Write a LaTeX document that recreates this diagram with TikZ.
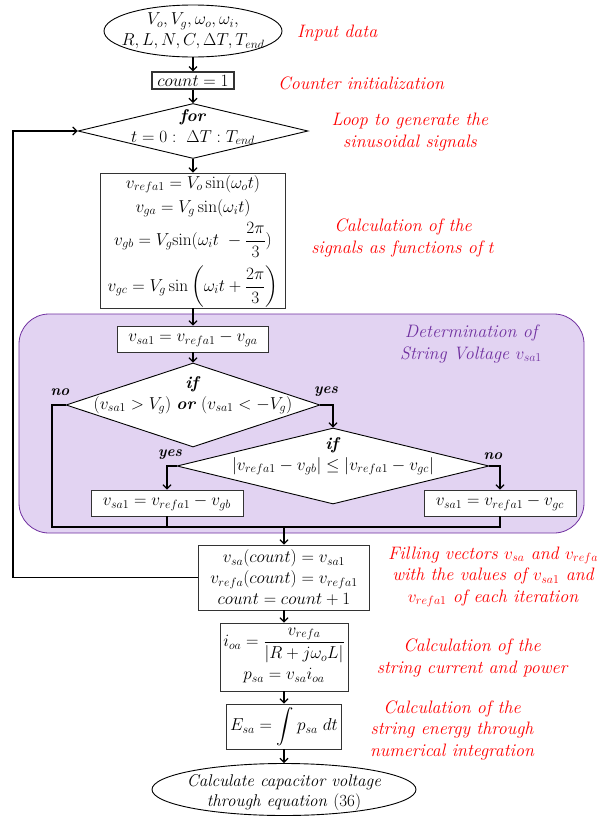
\documentclass[tikz,border=0pt]{standalone}
\usepackage{amsmath}
\usetikzlibrary{shapes.geometric,arrows.meta}
\definecolor{myred}{RGB}{255,0,0}
\definecolor{mypurple}{RGB}{112,48,160}
\definecolor{lav}{RGB}{226,211,242}
\newcommand\mf{\fontsize{17}{21}\selectfont}
\newcommand\nf{\fontsize{18}{21.5}\selectfont\itshape}
\newcommand\bi[1]{\textbf{\textit{#1}}}
\begin{document}
\begin{tikzpicture}[x=1pt,y=-1pt,
  box/.style={draw=black!80,line width=0.9pt,fill=white,inner sep=0pt,align=center,font=\mf},
  dia/.style={diamond,draw=black,line width=0.9pt,fill=white,inner sep=0pt},
  ell/.style={ellipse,draw=black,line width=0.9pt,fill=white,inner sep=0pt},
  txt/.style={inner sep=0pt,align=center,font=\mf},
  conn/.style={line width=1.6pt},
  arr/.style={conn,-{Straight Barb[length=4pt,width=8pt,line width=1.2pt]}},
  note/.style={text=myred,font=\nf,align=center,inner sep=0pt},
  pnote/.style={text=mypurple,font=\nf,align=center,inner sep=0pt},
  lab/.style={font=\fontsize{15}{18}\selectfont\bfseries\itshape,inner sep=0pt}
]
\useasboundingbox (0,0) rectangle (616,817);

% region
\node[draw=mypurple,fill=lav,line width=0.8pt,rounded corners=30pt,
      minimum width=565pt,minimum height=219pt,inner sep=0pt] (region) at (301.5,423.5) {};
\node[pnote] (regT) at (471,344) {Determination of\\String Voltage $v_{sa1}$};

% nodes
\node[ell,minimum width=178pt,minimum height=52pt] (in) at (193,31) {};
\node[txt] (inT) at (193,31) {$V_o,V_g,\omega_o,\omega_i,$\\$R,L,N,C,\Delta T,T_{end}$};

\node[box,line width=1.2pt,minimum width=82pt,minimum height=17pt] (cnt) at (193,80.5) {$count=1$};

\node[dia,minimum width=230pt,minimum height=55pt] (forD) at (193,131) {};
\node[txt] (forT) at (193,127) {\bi{for}\\$t=0:\ \Delta T:T_{end}$};

\node[box,minimum width=185pt,minimum height=135pt] (sig) at (193,240.5) {$\begin{gathered}
v_{refa1}=V_o\sin(\omega_o t)\\
v_{ga}=V_g\sin(\omega_i t)\\
v_{gb}=V_g\mathrm{sin}(\omega_i t\ -\dfrac{2\pi}{3})\\[5pt]
v_{gc}=V_g\sin\left(\omega_i t+\dfrac{2\pi}{3}\right)
\end{gathered}$};

\node[box,minimum width=151pt,minimum height=26pt] (s1) at (193,339) {$v_{sa1}=v_{refa1}-v_{ga}$};

\node[dia,minimum width=254pt,minimum height=84pt] (if1) at (193,405) {};
\node[txt] (if1T) at (193,395) {\bi{if}\\$(v_{sa1}>V_g)$ \bi{or} $(v_{sa1}<-V_g)$};

\node[dia,minimum width=312pt,minimum height=76pt] (if2) at (333,466) {};
\node[txt] (if2T) at (333,456) {\bi{if}\\$|v_{refa1}-v_{gb}|\le|v_{refa1}-v_{gc}|$};

\node[box,minimum width=152pt,minimum height=26pt] (gb) at (167,503) {$v_{sa1}=v_{refa1}-v_{gb}$};
\node[box,minimum width=152pt,minimum height=26pt] (gc) at (500,503) {$v_{sa1}=v_{refa1}-v_{gc}$};

\node[box,minimum width=171pt,minimum height=65pt] (fill) at (284,577.5) {$v_{sa}(count)=v_{sa1}$\\$v_{refa}(count)=v_{refa1}$\\$count=count+1$};

\node[box,minimum width=128pt,minimum height=68pt] (ioa) at (284,657) {$\begin{gathered}
i_{oa}=\dfrac{v_{refa}}{|R+j\omega_o L|}\\[-2pt]
p_{sa}=v_{sa}i_{oa}
\end{gathered}$};

\node[box,minimum width=115pt,minimum height=45pt] (esa) at (284,726.5) {$\displaystyle E_{sa}=\int p_{sa}\ dt$};

\node[ell,minimum width=264pt,minimum height=52pt] (out) at (284,789.5) {};
\node[txt,font=\fontsize{17}{20}\selectfont\itshape] (outT) at (284,793) {Calculate capacitor voltage\\through equation \textup{(36)}};

% labels
\node[lab] (no1) at (60,392) {no};
\node[lab] (yes1) at (326,392) {yes};
\node[lab] (yes2) at (170,455) {yes};
\node[lab] (no2) at (493,456) {no};

% notes
\node[note,anchor=west] (n1) at (297,33) {Input data};
\node[note,anchor=west] (n2) at (278,83) {Counter initialization};
\node[note] (n3) at (410,132) {Loop to generate the\\sinusoidal signals};
\node[note] (n4) at (403,238) {Calculation of the\\signals as functions of $t$};
\node[note] (n5) at (493,577) {Filling vectors $v_{sa}$ and $v_{refa}$\\with the values of $v_{sa1}$ and\\$v_{refa1}$ of each iteration};
\node[note] (n6) at (472,658) {Calculation of the\\string current and power};
\node[note] (n7) at (452,730) {Calculation of the\\string energy through\\numerical integration};

% coordinates
\coordinate (loopc) at (13,577.5);
\coordinate (ml) at (52,527);

% connectors
\draw[arr] (in.south) -- (cnt.north);
\draw[arr] (cnt.south) -- (forD.north);
\draw[arr] (forD.south) -- (sig.north);
\draw[arr] (sig.south) -- (s1.north);
\draw[arr] (s1.south) -- (if1.north);
\draw[arr] (if1.east) -| (if2.north);
\draw[arr] (if2.west) -| (gb.north);
\draw[arr] (if2.east) -| (gc.north);
\draw[conn] (if1.west) -| (ml) -- (gc.south |- ml) -- (gc.south);
\draw[conn] (gb.south) -- (gb.south |- ml);
\draw[arr] (fill.north |- ml) -- (fill.north);
\draw[arr] (fill.west) -- (loopc) |- (forD.west);
\draw[arr] (fill.south) -- (ioa.north);
\draw[arr] (ioa.south) -- (esa.north);
\draw[arr] (esa.south) -- (out.north);
\end{tikzpicture}
\end{document}
